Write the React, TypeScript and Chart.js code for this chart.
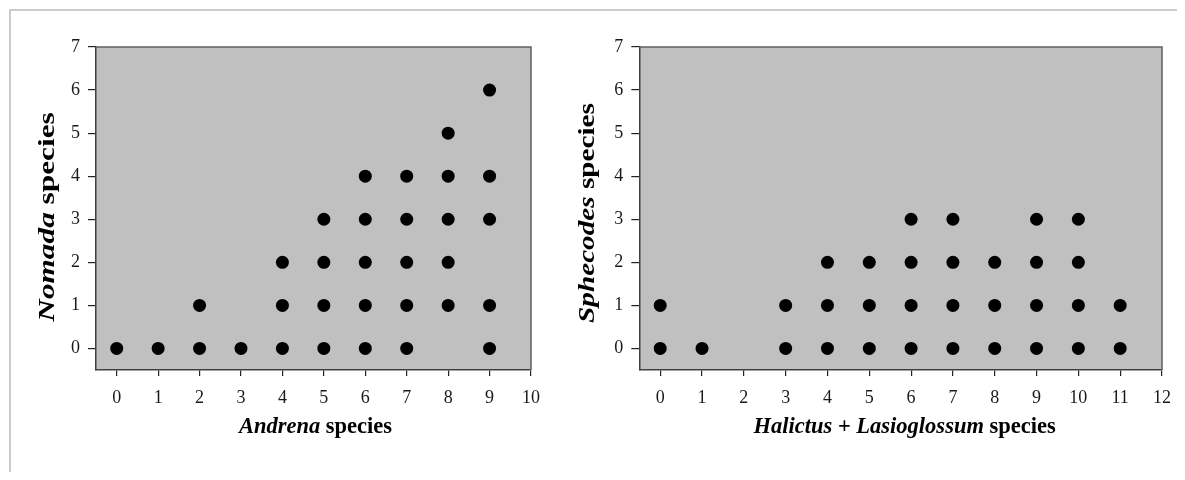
import React, { useEffect, useRef } from 'react';
import { Chart, registerables } from 'chart.js';

Chart.register(...registerables);

// ---- Data ----
const andrenaSpecies = [0, 1, 2, 2, 3, 4, 4, 4, 5, 5, 5, 5, 6, 6, 6, 6, 6, 7, 7, 7, 7, 7, 8, 8, 8, 8, 8, 9, 9, 9, 9, 9];
const nomadaSpecies = [0, 0, 0, 1, 0, 0, 1, 2, 0, 1, 2, 3, 0, 1, 2, 3, 4, 0, 1, 2, 3, 4, 1, 2, 3, 4, 5, 0, 1, 3, 4, 6];

const halictusLasioglossumSpecies = [0, 0, 1, 3, 3, 4, 4, 4, 5, 5, 5, 6, 6, 6, 6, 7, 7, 7, 7, 8, 8, 8, 9, 9, 9, 9, 10, 10, 10, 10, 11, 11];
const sphecodesSpecies = [0, 1, 0, 0, 1, 0, 1, 2, 0, 1, 2, 0, 1, 2, 3, 0, 1, 2, 3, 0, 1, 2, 0, 1, 2, 3, 0, 1, 2, 3, 0, 1];

const leftXTicks = [0, 1, 2, 3, 4, 5, 6, 7, 8, 9, 10];
const rightXTicks = [0, 1, 2, 3, 4, 5, 6, 7, 8, 9, 10, 11, 12];
const yTicks = [0, 1, 2, 3, 4, 5, 6, 7];

type Part = { text: string; italic?: boolean };

const leftXTitle: Part[] = [{ text: 'Andrena', italic: true }, { text: ' species' }];
const leftYTitle: Part[] = [{ text: 'Nomada', italic: true }, { text: ' species' }];
const rightXTitle: Part[] = [
  { text: 'Halictus', italic: true },
  { text: ' + ' },
  { text: 'Lasioglossum', italic: true },
  { text: ' species' },
];
const rightYTitle: Part[] = [{ text: 'Sphecodes', italic: true }, { text: ' species' }];

const FONT = '"Liberation Serif", "Times New Roman", serif';

function drawParts(ctx: CanvasRenderingContext2D, parts: Part[], size: number) {
  const fonts = parts.map((p) => `${p.italic ? 'italic ' : ''}bold ${size}px ${FONT}`);
  const widths = parts.map((p, i) => {
    ctx.font = fonts[i];
    return ctx.measureText(p.text).width;
  });
  const total = widths.reduce((a, b) => a + b, 0);
  let x = -total / 2;
  ctx.textAlign = 'left';
  ctx.textBaseline = 'alphabetic';
  ctx.fillStyle = '#000';
  parts.forEach((p, i) => {
    ctx.font = fonts[i];
    ctx.fillText(p.text, x, 0);
    x += widths[i];
  });
}

type PanelProps = {
  left: number;
  width: number;
  height: number;
  xs: number[];
  ys: number[];
  xMax: number;
  xTicks: number[];
  xTitle: Part[];
  yTitle: Part[];
  yAxisWidth: number;
  padTop: number;
  xAxisHeight: number;
  yTitleX: number;
  yTitleCY: number;
  yTitleStretch: number;
  xTitleDX: number;
  xTitleBaseline: number;
};

function Panel(props: PanelProps) {
  const ref = useRef<HTMLCanvasElement | null>(null);

  useEffect(() => {
    if (!ref.current) return;
    const points = props.xs.map((x, i) => ({ x, y: props.ys[i] }));

    const decor = {
      id: 'decor',
      beforeDraw(chart: any) {
        const { ctx, chartArea: a } = chart;
        ctx.save();
        ctx.fillStyle = '#c0c0c0';
        ctx.fillRect(a.left, a.top, a.right - a.left, a.bottom - a.top);
        ctx.restore();
      },
      beforeDatasetsDraw(chart: any) {
        const { ctx, chartArea: a } = chart;
        ctx.save();
        ctx.strokeStyle = '#606060';
        ctx.lineWidth = 1.5;
        ctx.beginPath();
        ctx.moveTo(a.left, a.top);
        ctx.lineTo(a.right, a.top);
        ctx.lineTo(a.right, a.bottom);
        ctx.stroke();
        ctx.restore();
      },
      afterDraw(chart: any) {
        const { ctx, chartArea: a } = chart;
        // x title
        ctx.save();
        ctx.translate((a.left + a.right) / 2 + props.xTitleDX, props.xTitleBaseline);
        drawParts(ctx, props.xTitle, 22.5);
        ctx.restore();
        // y title (rotated)
        ctx.save();
        ctx.translate(props.yTitleX, props.yTitleCY);
        ctx.rotate(-Math.PI / 2);
        ctx.scale(props.yTitleStretch, 1);
        drawParts(ctx, props.yTitle, 23);
        ctx.restore();
      },
    };

    const chart = new Chart(ref.current, {
      type: 'scatter',
      data: {
        datasets: [
          {
            data: points,
            pointRadius: 6.5,
            pointHoverRadius: 6.5,
            pointBackgroundColor: '#000',
            pointBorderWidth: 0,
            borderColor: '#000',
            showLine: false,
          },
        ],
      },
      options: {
        responsive: false,
        animation: false,
        devicePixelRatio: 1,
        layout: { padding: { left: 0, top: props.padTop, right: 0, bottom: 0 } },
        plugins: { legend: { display: false }, tooltip: { enabled: false }, title: { display: false } },
        scales: {
          x: {
            type: 'linear',
            min: -0.5,
            max: props.xMax,
            afterBuildTicks: (s: any) => {
              s.ticks = props.xTicks.map((v) => ({ value: v }));
            },
            afterFit: (s: any) => {
              s.height = props.xAxisHeight;
            },
            ticks: {
              font: { family: FONT, size: 18 },
              color: '#1a1a1a',
              padding: 11,
              maxRotation: 0,
              autoSkip: false,
            },
            grid: { drawOnChartArea: false, drawTicks: true, tickLength: 6, color: '#222', lineWidth: 1.2 },
            border: { display: true, color: '#404040', width: 1.5 },
          },
          y: {
            type: 'linear',
            min: -0.5,
            max: 7,
            afterBuildTicks: (s: any) => {
              s.ticks = yTicks.map((v) => ({ value: v }));
            },
            afterFit: (s: any) => {
              s.width = props.yAxisWidth;
            },
            ticks: {
              font: { family: FONT, size: 18 },
              color: '#1a1a1a',
              padding: 8,
              autoSkip: false,
            },
            grid: { drawOnChartArea: false, drawTicks: true, tickLength: 8, color: '#222', lineWidth: 1.2 },
            border: { display: true, color: '#404040', width: 1.5 },
          },
        },
      },
      plugins: [decor],
    });
    return () => chart.destroy();
  }, []);

  return (
    <canvas
      ref={ref}
      width={props.width}
      height={props.height}
      style={{ position: 'absolute', left: props.left, top: 0, width: props.width, height: props.height }}
    />
  );
}

export default function App() {
  return (
    <div style={{ position: 'relative', width: 1169, height: 464 }}>
      <div
        style={{
          position: 'absolute',
          left: 1,
          top: 1,
          width: 1176,
          height: 463,
          borderTop: '2px solid #cccccc',
          borderLeft: '2px solid #cccccc',
          boxSizing: 'border-box',
        }}
      />
      <Panel
        left={0}
        width={543}
        height={464}
        xs={andrenaSpecies}
        ys={nomadaSpecies}
        xMax={10}
        xTicks={leftXTicks}
        xTitle={leftXTitle}
        yTitle={leftYTitle}
        yAxisWidth={88}
        padTop={39}
        xAxisHeight={102}
        yTitleX={45.5}
        yTitleCY={209}
        yTitleStretch={1.36}
        xTitleDX={2}
        xTitleBaseline={425}
      />
      <Panel
        left={540}
        width={634}
        height={464}
        xs={halictusLasioglossumSpecies}
        ys={sphecodesSpecies}
        xMax={12}
        xTicks={rightXTicks}
        xTitle={rightXTitle}
        yTitle={rightYTitle}
        yAxisWidth={91.3}
        padTop={39}
        xAxisHeight={102}
        yTitleX={46}
        yTitleCY={205}
        yTitleStretch={1.27}
        xTitleDX={4}
        xTitleBaseline={425}
      />
    </div>
  );
}
